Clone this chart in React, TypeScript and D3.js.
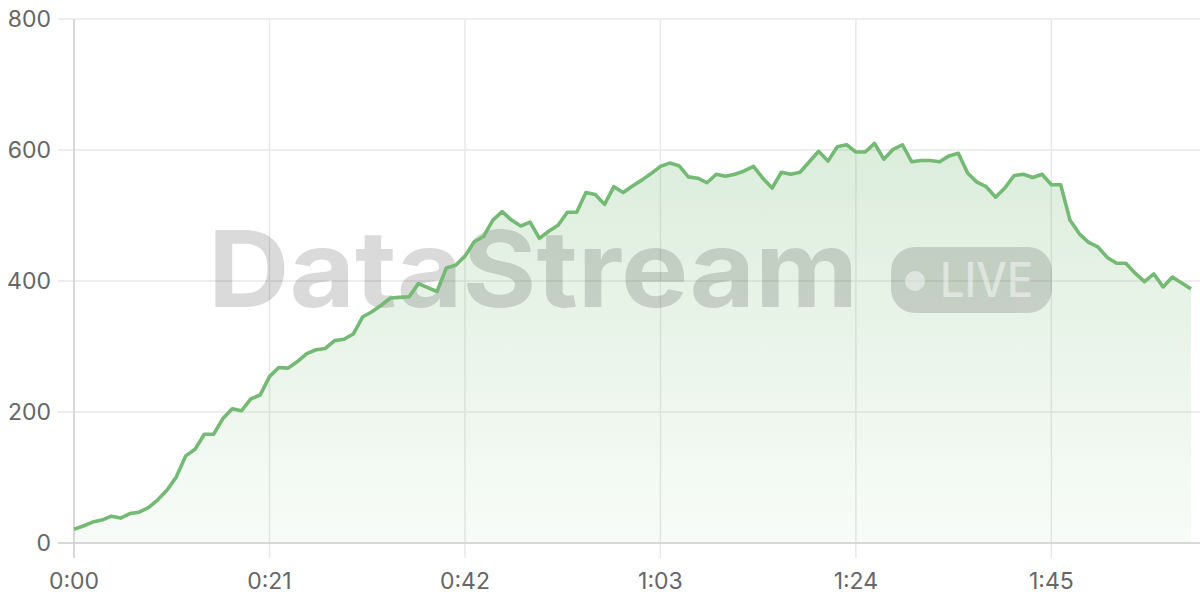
import React from "react";
import * as d3 from "d3";

const values: number[] = [
  21, 26, 32, 35, 41, 38, 45, 47, 54, 66,
  81, 101, 133, 143, 166, 166, 190, 205, 202, 220,
  226, 254, 268, 267, 277, 289, 295, 297, 309, 311,
  319, 345, 353, 363, 374, 375, 376, 396, 390, 384,
  420, 424, 438, 460, 468, 493, 506, 493, 484, 490,
  465, 476, 485, 505, 505, 535, 532, 517, 544, 535,
  545, 554, 564, 575, 580, 576, 559, 557, 550, 563,
  560, 563, 568, 575, 557, 542, 566, 563, 566, 582,
  598, 583, 605, 608, 597, 597, 610, 586, 601, 608,
  582, 584, 584, 582, 591, 595, 565, 551, 544, 528,
  542, 561, 563, 558, 563, 547, 547, 493, 472, 459,
  452, 436, 427, 427, 412, 399, 411, 391, 406, 397,
  388,
];
const seconds: number[] = values.map((_, i) => i);
const xTicks: number[] = [0, 21, 42, 63, 84, 105];
const yTicks: number[] = [0, 200, 400, 600, 800];
const watermark = "DataStream";
const badgeText = "LIVE";

const fmt = (s: number) => `${Math.floor(s / 60)}:${String(s % 60).padStart(2, "0")}`;

export default function App() {
  const W = 1200, H = 600;
  const left = 74, right = 1191, top = 19, bottom = 543;
  const x = d3.scaleLinear().domain([0, 120]).range([left, right]);
  const y = d3.scaleLinear().domain([0, 800]).range([bottom, top]);
  const data = seconds.map((s, i) => ({ s, v: values[i] }));
  const line = d3.line<{ s: number; v: number }>().x(d => x(d.s)).y(d => y(d.v));
  const area = d3.area<{ s: number; v: number }>().x(d => x(d.s)).y0(y(0)).y1(d => y(d.v));
  const green = "#74b974";
  const font = "Inter, 'Noto Sans', sans-serif";
  return (
    <svg width={W} height={H} style={{ position: "absolute", left: 0, top: 0 }}>
      <defs>
        <linearGradient id="ag" gradientUnits="userSpaceOnUse" x1="0" y1={top} x2="0" y2={bottom}>
          <stop offset="0%" stopColor={green} stopOpacity={0.32} />
          <stop offset="100%" stopColor={green} stopOpacity={0.05} />
        </linearGradient>
      </defs>
      <rect width={W} height={H} fill="#fff" />
      {yTicks.map(t => (
        <line key={"h" + t} x1={58} x2={W} y1={y(t)} y2={y(t)} stroke="#e8e8e8" strokeWidth={1.5} />
      ))}
      {xTicks.map(t => (
        <line key={"v" + t} x1={x(t)} x2={x(t)} y1={top} y2={558} stroke="#e8e8e8" strokeWidth={1.5} />
      ))}
      <path d={area(data) || ""} fill="url(#ag)" />
      <line x1={left} x2={left} y1={top} y2={558} stroke="#d0d0d0" strokeWidth={1.5} />
      <line x1={58} x2={W} y1={bottom} y2={bottom} stroke="#d0d0d0" strokeWidth={1.5} />
      <g fill="#000" opacity={0.14}>
        <text x={208} y={307} fontFamily={font} fontWeight={700} fontSize={106} textLength={650} lengthAdjust="spacingAndGlyphs">{watermark}</text>
        <rect x={891} y={247} width={161} height={66} rx={24} />
      </g>
      <g fill="#fff" opacity={0.45}>
        <circle cx={915} cy={281} r={10} />
        <text x={940} y={297} fontFamily={font} fontWeight={500} fontSize={48} textLength={93} lengthAdjust="spacingAndGlyphs">{badgeText}</text>
      </g>
      <path d={line(data) || ""} fill="none" stroke={green} strokeWidth={3.6} strokeLinejoin="round" />
      {yTicks.map(t => (
        <text key={"yl" + t} x={51} y={y(t)} dy="0.36em" textAnchor="end" fontFamily={font} fontSize={23} fill="#666">{t}</text>
      ))}
      {xTicks.map(t => (
        <text key={"xl" + t} x={x(t)} y={589} textAnchor="middle" fontFamily={font} fontSize={23} fill="#666">{fmt(t)}</text>
      ))}
    </svg>
  );
}
